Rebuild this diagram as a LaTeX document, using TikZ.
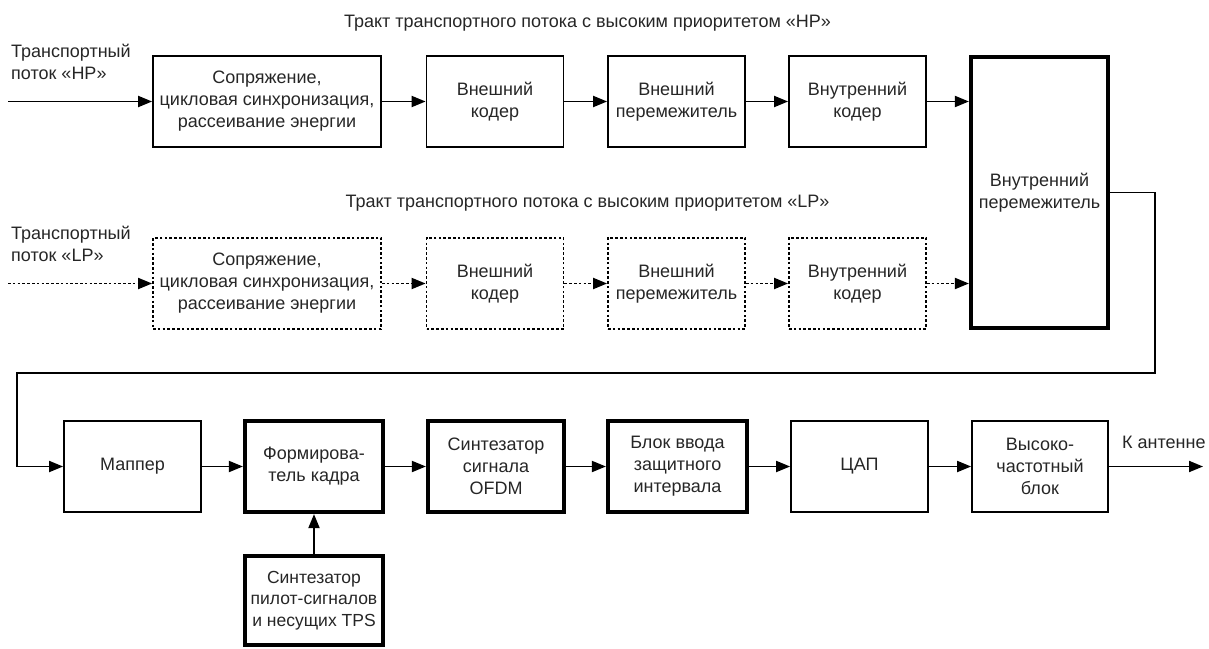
\documentclass[tikz,border=0pt]{standalone}
\usepackage{fontspec}
\setmainfont{Liberation Sans}
\usetikzlibrary{arrows.meta}
\begin{document}
\begin{tikzpicture}[x=1pt,y=-1pt,
  every node/.style={font=\fontsize{18}{22}\selectfont, text=black!85},
  blk/.style={draw, line width=1.8pt, minimum height=91pt, inner sep=0pt, align=center},
  thk/.style={blk, line width=4.2pt},
  lpbox/.style={blk, line width=1.8pt, dash pattern=on 2.6pt off 2.2pt},
  con/.style={line width=1.9pt, -{Triangle[length=14pt,width=11pt]}},
  lpcon/.style={con, dash pattern=on 2.6pt off 2.2pt},
  lbl/.style={inner sep=0pt, align=left}]
\useasboundingbox (0,0) rectangle (1209,648);

% titles
\node[lbl] (thp) at (587.5,23) {Тракт транспортного потока с высоким приоритетом «HP»};
\node[lbl] (tlp) at (587.5,203) {Тракт транспортного потока с высоким приоритетом «LP»};

% HP row
\node[lbl, anchor=west] (ihp) at (11,62) {Транспортный\\поток «HP»};
\coordinate (shp) at (8,101.5);
\node[blk, minimum width=228pt] (hp1) at (267,101.5) {Сопряжение,\\цикловая синхронизация,\\рассеивание энергии};
\node[blk, minimum width=137pt] (hp2) at (495,101.5) {Внешний\\кодер};
\node[blk, minimum width=137pt] (hp3) at (676.5,101.5) {Внешний\\перемежитель};
\node[blk, minimum width=137pt] (hp4) at (857.5,101.5) {Внутренний\\кодер};

% big interleaver
\node[thk, minimum width=137pt, minimum height=271pt] (big) at (1039.5,192.5) {Внутренний\\перемежитель};

% LP row
\node[lbl, anchor=west] (ilp) at (11,244) {Транспортный\\поток «LP»};
\coordinate (slp) at (8,283.5);
\node[lpbox, minimum width=228pt] (lp1) at (267,283.5) {Сопряжение,\\цикловая синхронизация,\\рассеивание энергии};
\node[lpbox, minimum width=137pt] (lp2) at (495,283.5) {Внешний\\кодер};
\node[lpbox, minimum width=137pt] (lp3) at (676.5,283.5) {Внешний\\перемежитель};
\node[lpbox, minimum width=137pt] (lp4) at (857.5,283.5) {Внутренний\\кодер};

% bottom row
\node[blk, minimum width=137pt] (map) at (132.5,466.5) {Маппер};
\node[thk, minimum width=138pt] (frm) at (314,466.5) {Формирова-\\тель кадра};
\node[thk, minimum width=136pt] (ofdm) at (496,466.5) {Синтезатор\\сигнала\\OFDM};
\node[thk, minimum width=139pt] (grd) at (677.5,466.5) {Блок ввода\\защитного\\интервала};
\node[blk, minimum width=137pt] (dac) at (859.5,466.5) {ЦАП};
\node[blk, minimum width=136pt] (hf) at (1040,466.5) {Высоко-\\частотный\\блок};
\node[thk, minimum width=138pt, minimum height=89pt, font=\fontsize{17.5}{21.5}\selectfont] (pil) at (314,600.5) {Синтезатор\\пилот-сигналов\\и несущих TPS};

\coordinate (out) at (1203,466.5);
\node[lbl, anchor=west] (ant) at (1122,442) {К антенне};

% HP connectors
\draw[con] (shp) -- (hp1.west);
\draw[con] (hp1) -- (hp2);
\draw[con] (hp2) -- (hp3);
\draw[con] (hp3) -- (hp4);
\draw[con] (hp4.east) -- (hp4.east -| big.west);

% LP connectors
\draw[lpcon] (slp) -- (lp1.west);
\draw[lpcon] (lp1) -- (lp2);
\draw[lpcon] (lp2) -- (lp3);
\draw[lpcon] (lp3) -- (lp4);
\draw[lpcon] (lp4.east) -- (lp4.east -| big.west);

% loop to mapper
\coordinate (c1) at (1155,192.5);
\coordinate (c2) at (1155,373);
\coordinate (c3) at (17,373);
\draw[con] (big.east) -- (c1) -- (c2) -- (c3) |- (map.west);

% bottom connectors
\draw[con] (map) -- (frm);
\draw[con] (frm) -- (ofdm);
\draw[con] (ofdm) -- (grd);
\draw[con] (grd) -- (dac);
\draw[con] (dac) -- (hf);
\draw[con] (hf.east) -- (out);
\draw[con] (pil) -- (frm);
\end{tikzpicture}
\end{document}
